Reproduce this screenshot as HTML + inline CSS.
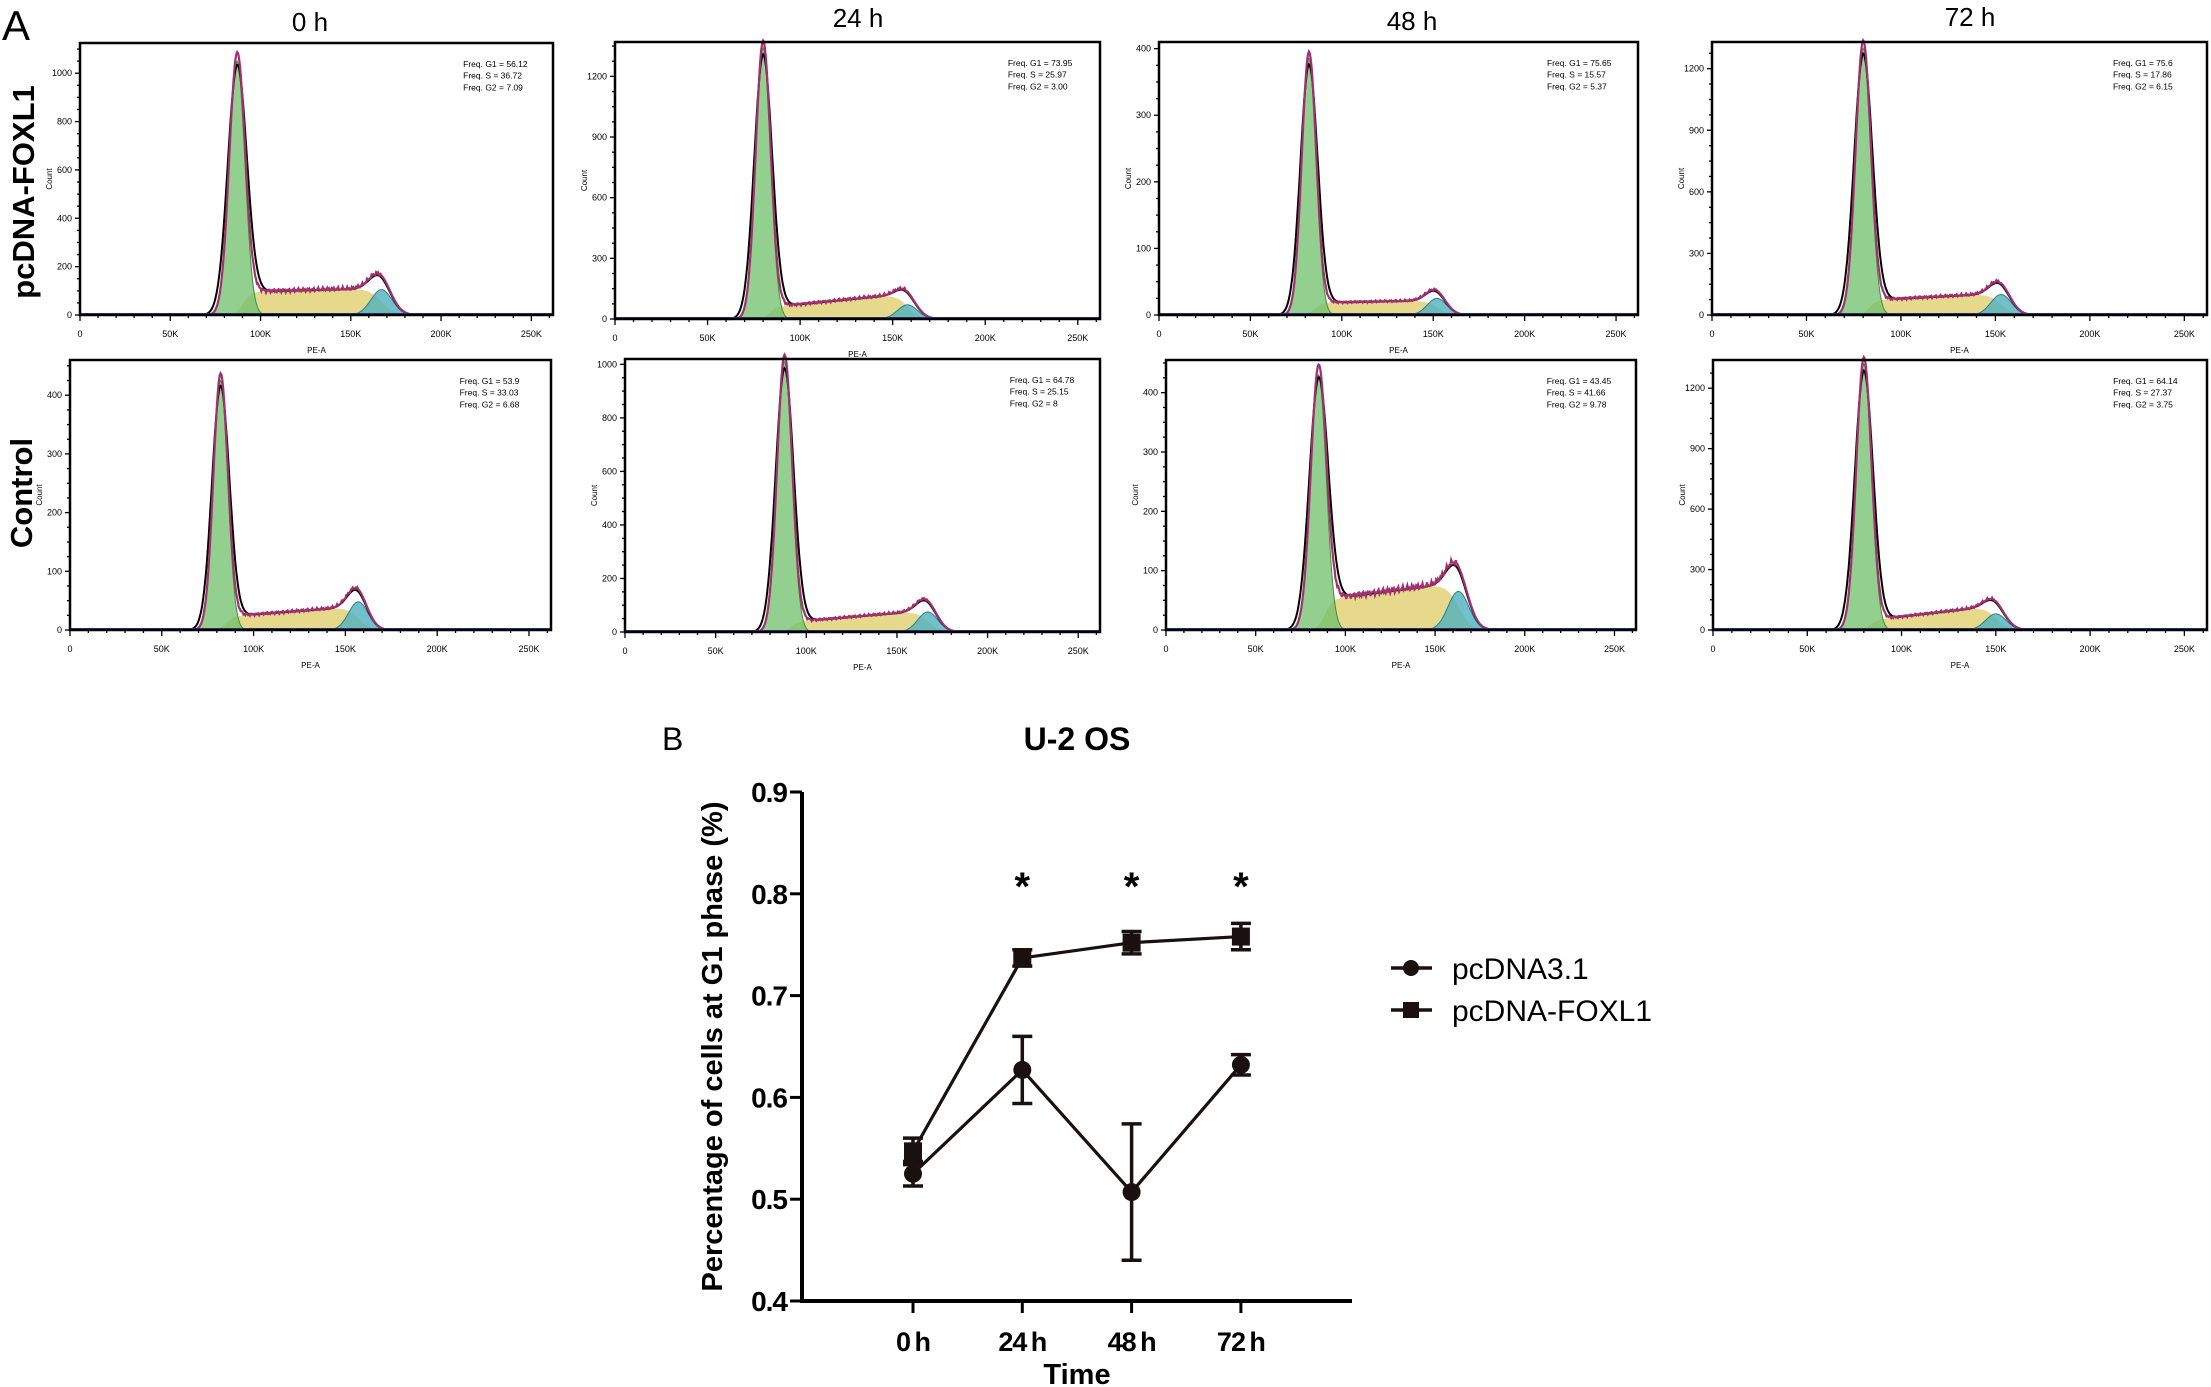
<!DOCTYPE html>
<html><head><meta charset="utf-8"><style>
html,body{margin:0;padding:0;background:#fff;}
svg{display:block;font-family:"Liberation Sans",Arial,sans-serif;}
</style></head><body>
<svg id="fig" width="2211" height="1387" viewBox="0 0 2211 1387" xmlns="http://www.w3.org/2000/svg">
<text x="2" y="40" font-size="42">A</text>
<text x="310" y="31" font-size="26" text-anchor="middle">0 h</text>
<text x="858" y="27" font-size="26" text-anchor="middle">24 h</text>
<text x="1412" y="30" font-size="26" text-anchor="middle">48 h</text>
<text x="1970" y="26" font-size="26" text-anchor="middle">72 h</text>
<text transform="translate(34,192) rotate(-90)" font-size="31" font-weight="bold" text-anchor="middle">pcDNA-FOXL1</text>
<text transform="translate(32,493) rotate(-90)" font-size="31" font-weight="bold" text-anchor="middle">Control</text>
<text x="662" y="750" font-size="32">B</text>
<text x="1077" y="750" font-size="32" font-weight="bold" text-anchor="middle">U-2 OS</text>
<g id="hist"></g>
<g id="line"></g>
</svg>
<script>
// ---------- Histogram data (per panel: 0h,24h,48h,72h FOXL1 then Control) ----------
const g1Centers = [87, 80, 82, 80, 82, 88, 85, 80];
const g1Heights = [1050, 1340, 385, 1300, 425, 1010, 430, 1320];
const g1Sigmas  = [4.3, 4.0, 3.9, 4.0, 3.9, 4.1, 4.3, 4.0];
const sStart    = [95, 55, 18, 70, 22, 35, 50, 45];
const sEnd      = [110, 125, 22, 105, 40, 80, 80, 120];
const g2Centers = [167, 158, 152, 153, 157, 167, 163, 150];
const g2Heights = [105, 70, 25, 100, 48, 75, 65, 80];
const yMaxes    = [1125, 1370, 410, 1330, 460, 1020, 455, 1340];
const yTickStep = [200, 300, 100, 300, 100, 200, 100, 300];
const freqG1 = ["56.12","73.95","75.65","75.6","53.9","64.78","43.45","64.14"];
const freqS  = ["36.72","25.97","15.57","17.86","33.03","25.15","41.66","27.37"];
const freqG2 = ["7.09","3.00","5.37","6.15","6.68","8","9.78","3.75"];

// layout (not data)
const boxes = [
 [80,43,553,315],[615,42,1100,319],[1159,42,1638,315],[1712,42,2207,315],
 [70,360,551,630],[625,359,1100,632],[1166,360,1636,630],[1713,360,2207,630]
];
const NS="http://www.w3.org/2000/svg";
function mk(tag,attrs,parent){const e=document.createElementNS(NS,tag);for(const k in attrs)e.setAttribute(k,attrs[k]);parent.appendChild(e);return e;}
const hist=document.getElementById('hist');
const XMAX=262;
function sig(z){return 1/(1+Math.exp(-z));}
for(let i=0;i<8;i++){
  const [x0,y0,x1,y1]=boxes[i];
  const g=mk('g',{},hist);
  
  
  const X=k=>x0+k/XMAX*(x1-x0);
  const Y=c=>y1-Math.min(c,yMaxes[i]*1.02)/yMaxes[i]*(y1-y0);
  const c1=g1Centers[i],h1=g1Heights[i],s1=g1Sigmas[i],c2=g2Centers[i],h2=g2Heights[i],s2=s1*1.35;
  const G1=k=>h1*Math.exp(-((k-c1)**2)/(2*s1*s1));
  const G2=k=>h2*Math.exp(-((k-c2)**2)/(2*s2*s2));
  const S=k=>{const t=Math.max(0,Math.min(1,(k-c1)/(c2-c1)));return (sStart[i]+(sEnd[i]-sStart[i])*t)*sig((k-c1-s1*0.8)/(s1*0.5))*sig((c2-k)/(s2*0.6));};
  const ks=[];for(let k=40;k<=200;k+=0.5)ks.push(k);
  const area=f=>'M'+X(ks[0])+','+y1+ks.map(k=>'L'+X(k).toFixed(1)+','+Y(f(k)).toFixed(1)).join('')+'L'+X(ks[ks.length-1])+','+y1+'Z';
  const line=f=>'M'+ks.map(k=>X(k).toFixed(1)+','+Y(f(k)).toFixed(1)).join('L');
  const ys=mk('path',{d:area(S),fill:'#e6d98c',stroke:'none'},g);
  
  const gs=mk('path',{d:area(G1),fill:'#6fbf6a','fill-opacity':'0.75',stroke:'#3d8f3d','stroke-width':'1'},g);
  
  const bs=mk('path',{d:area(G2),fill:'#4fb0bd','fill-opacity':'0.8',stroke:'#2a7f8a','stroke-width':'1'},g);
  
  const tot=k=>G1(k)+S(k)+G2(k);
  const bl=mk('path',{d:line(k=>h1*0.97*Math.exp(-((k-c1)**2)/(2*(s1*1.2)**2))+S(k)+G2(k)*0.95),fill:'none',stroke:'#000','stroke-width':'2'},g);
  
  const noise=k=>(Math.sin(k*2.3)+Math.sin(k*5.1+1))*0.04*(sStart[i]+sEnd[i])/2*(k>c1+2*s1&&k<c2?1:0);
  const pl=mk('path',{d:line(k=>tot(k)*1.02+noise(k)),fill:'none',stroke:'#a0306f','stroke-width':'2.2'},g);
  
  mk('line',{x1:x0,y1:y1-1,x2:x1,y2:y1-1,stroke:'#2a3f8a','stroke-width':'2'},g);
  const fr=mk('rect',{x:x0,y:y0,width:x1-x0,height:y1-y0,fill:'none',stroke:'#000','stroke-width':'2.5'},g);
  
  for(let v=0;v<=yMaxes[i];v+=yTickStep[i]/4){
    const major=Math.abs(v/yTickStep[i]-Math.round(v/yTickStep[i]))<1e-6;
    mk('line',{x1:x0,x2:x0-(major?5:3),y1:Y(v),y2:Y(v),stroke:'#000','stroke-width':'1.3'},g);
    if(major){const t=mk('text',{x:x0-8,y:Y(v)+3,'font-size':'9','text-anchor':'end'},g);t.textContent=Math.round(v);
      }
  }
  for(let k=0;k<=XMAX;k+=10){
    const major=k%50===0;
    mk('line',{x1:X(k),x2:X(k),y1:y1,y2:y1+(major?6:3),stroke:'#000','stroke-width':'1.3'},g);
    if(major){const t=mk('text',{x:X(k),y:y1+22,'font-size':'9','text-anchor':'middle'},g);t.textContent=k===0?'0':k+'K';
      }
  }
  const xl=mk('text',{x:(x0+x1)/2,y:y1+38,'font-size':'8','text-anchor':'middle'},g);xl.textContent='PE-A';
  
  const yl=mk('text',{transform:`translate(${x0-28},${(y0+y1)/2}) rotate(-90)`,'font-size':'8','text-anchor':'middle'},g);yl.textContent='Count';
  
  const fx=x0+0.81*(x1-x0);
  [['Freq. G1  = ',freqG1[i]],['Freq. S = ',freqS[i]],['Freq. G2  = ',freqG2[i]]].forEach((p,j)=>{
    const t=mk('text',{x:fx,y:y0+24+j*11.7,'font-size':'8.5'},g);t.textContent=p[0]+p[1];
    
  });
}

// ---------- Line chart data ----------
const categories = ["0 h","24 h","48 h","72 h"];
const pcdnaMeans = [0.525,0.627,0.507,0.632];
const pcdnaErr   = [0.012,0.033,0.067,0.010];
const foxMeans   = [0.547,0.737,0.752,0.758];
const foxErr     = [0.013,0.008,0.011,0.013];
const yTicks     = [0.4,0.5,0.6,0.7,0.8,0.9];
const sigFlags   = [false,true,true,true];

const L=document.getElementById('line');
const AX=802, AY=1301, AXEND=1352;
const xs=i=>913+i*109.3;
const ys=v=>AY-(v-0.4)/0.5*509;
const ya=mk('line',{x1:AX,y1:ys(0.9),x2:AX,y2:AY+2,stroke:'#000','stroke-width':'4'},L);

const xa=mk('line',{x1:AX-2,y1:AY,x2:AXEND,y2:AY,stroke:'#000','stroke-width':'4'},L);

yTicks.forEach(v=>{
  mk('line',{x1:AX-12,x2:AX,y1:ys(v),y2:ys(v),stroke:'#000','stroke-width':'3'},L);
  const t=mk('text',{x:AX-15,y:ys(v)+10,'font-size':'28','font-weight':'bold','text-anchor':'end','letter-spacing':'-1'},L);
  t.textContent=v.toFixed(1);
  
});
categories.forEach((c,i)=>{
  mk('line',{x1:xs(i),x2:xs(i),y1:AY,y2:AY+12,stroke:'#000','stroke-width':'3'},L);
  const t=mk('text',{x:xs(i),y:AY+50,'font-size':'27','font-weight':'bold','text-anchor':'middle','letter-spacing':'-1'},L);
  t.textContent=c.replace(' ','\u2009');
  
});
const xt=mk('text',{x:(AX+AXEND)/2,y:AY+83,'font-size':'29','font-weight':'bold','text-anchor':'middle'},L);
xt.textContent='Time';
const yt=mk('text',{transform:`translate(722,${(ys(0.9)+AY)/2}) rotate(-90)`,'font-size':'29','font-weight':'bold','text-anchor':'middle'},L);
yt.textContent='Percentage of cells at G1 phase (%)';

function series(means,errs,marker,name){
  const g=mk('g',{},L);
  
  const p=mk('polyline',{points:means.map((v,i)=>xs(i)+','+ys(v)).join(' '),fill:'none',stroke:'#1a1010','stroke-width':'3.2'},g);
  
  means.forEach((v,i)=>{
    const x=xs(i),t=ys(v+errs[i]),b=ys(v-errs[i]);
    const e=mk('path',{d:`M${x},${t}V${b}M${x-10},${t}H${x+10}M${x-10},${b}H${x+10}`,stroke:'#1a1010','stroke-width':'3.5',fill:'none'},g);
    
    let m;
    if(marker==='circle')m=mk('circle',{cx:x,cy:ys(v),r:9,fill:'#1a1010'},g);
    else m=mk('rect',{x:x-9,y:ys(v)-9,width:18,height:18,fill:'#1a1010'},g);
    
  });
}
series(pcdnaMeans,pcdnaErr,'circle','pcdna31');
series(foxMeans,foxErr,'square','pcdna-foxl1');
sigFlags.forEach((f,i)=>{ if(!f)return;
  const t=mk('text',{x:xs(i),y:900,'font-size':'40','font-weight':'bold','text-anchor':'middle'},L);
  t.textContent='*';
});
const lg=mk('g',{},L);

[['pcDNA3.1','circle',968],['pcDNA-FOXL1','square',1010]].forEach(([lab,mkType,y])=>{
  const e=mk('g',{},lg);
  
  mk('line',{x1:1391,x2:1432,y1:y,y2:y,stroke:'#1a1010','stroke-width':'3.5'},e);
  if(mkType==='circle')mk('circle',{cx:1411,cy:y,r:8,fill:'#1a1010'},e);
  else mk('rect',{x:1403,y:y-8,width:16,height:16,fill:'#1a1010'},e);
  const t=mk('text',{x:1452,y:y+11,'font-size':'30'},e);t.textContent=lab;
});
</script>
</body></html>
